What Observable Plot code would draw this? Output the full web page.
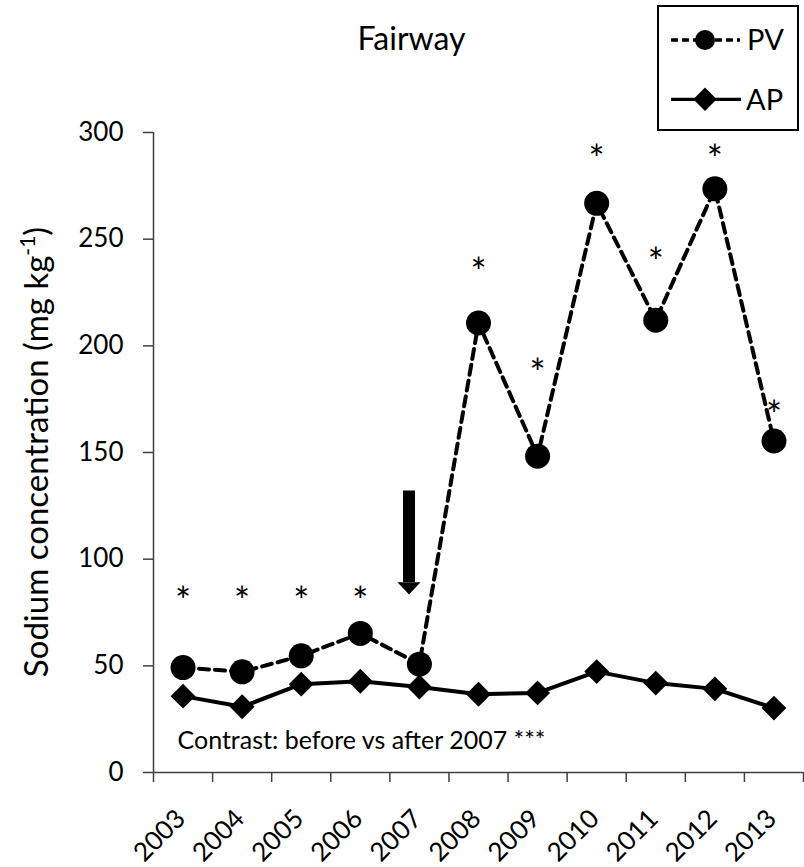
<!DOCTYPE html>
<html><head><meta charset="utf-8">
<script src="https://cdn.jsdelivr.net/npm/d3@7"></script>
<script src="https://cdn.jsdelivr.net/npm/@observablehq/plot@0.6"></script>
<style>
body{margin:0;background:#fff;}
#chart{width:804px;height:867px;}
</style></head><body><div id="chart"></div>
<script>
// ---- data ----
const years = [2003, 2004, 2005, 2006, 2007, 2008, 2009, 2010, 2011, 2012, 2013];
const pvValues = [49.2, 47.2, 54.7, 65.2, 50.8, 210.7, 148.3, 266.8, 212.0, 273.6, 155.4];
const apValues = [35.8, 30.8, 41.4, 42.8, 40.1, 36.7, 37.3, 47.3, 41.9, 39.2, 30.2];
const starValues = [83.7, 83.7, 83.7, 83.7, null, 238, 191, 291, 243, 291, 171];
const yTicks = [0, 50, 100, 150, 200, 250, 300];
const arrowYear = 2007;
const arrowTop = 132;
const arrowTip = 83.4;
const seriesNames = ["PV", "AP"];
const titleText = "Fairway";
const yLabelMain = "Sodium concentration (mg kg";
const yLabelSup = "-1";
const contrastText = "Contrast: before vs after 2007 ***";

// ---- tables ----
const pv = years.map((year, i) => ({year, value: pvValues[i]}));
const ap = years.map((year, i) => ({year, value: apValues[i]}));
const stars = years.map((year, i) => ({year, value: starValues[i]})).filter(d => d.value != null);
const bounds = years.map(y => y - 0.5).concat([years[years.length - 1] + 0.5]);
const arrow = [{year: arrowYear, top: arrowTop, tip: arrowTip}];

const font = "Lato, 'Open Sans', sans-serif";
const axisColor = "#404040";

const headSymbol = {
  draw(ctx, size) {
    const r = Math.sqrt(size / Math.PI);
    ctx.moveTo(-r, -r * 1.08);
    ctx.lineTo(r, -r * 1.08);
    ctx.lineTo(0, 0);
    ctx.closePath();
  }
};

const plot = Plot.plot({
  width: 804,
  height: 867,
  marginLeft: 153,
  marginRight: 1,
  marginTop: 132,
  marginBottom: 95,
  style: {fontFamily: font, fontSize: "26px", color: "#000", background: "#fff", overflow: "visible"},
  x: {type: "linear", domain: [bounds[0], bounds[bounds.length - 1]]},
  y: {domain: [0, 300]},
  marks: [
    Plot.axisY({ticks: yTicks, tickSize: 10, tickPadding: 20, tickFormat: d => String(d), label: null, stroke: axisColor, strokeWidth: 1.5, fontSize: 26, fill: "#000"}),
    Plot.axisX({ticks: bounds, tickSize: 10, tickFormat: () => "", label: null, stroke: axisColor, strokeWidth: 1.5}),
    Plot.axisX({ticks: years, tickSize: 0, tickRotate: -45, tickPadding: 42, dx: -2, tickFormat: d => String(d), label: null, fontSize: 26, fill: "#000"}),
    Plot.ruleX([bounds[0]], {stroke: axisColor, strokeWidth: 1.5}),
    Plot.ruleY([0], {stroke: axisColor, strokeWidth: 1.5}),
    Plot.line(pv, {x: "year", y: "value", stroke: "#000", strokeWidth: 4, strokeDasharray: "10,6"}),
    Plot.dot(pv, {x: "year", y: "value", r: 12.5, fill: "#000", stroke: null}),
    Plot.line(ap, {x: "year", y: "value", stroke: "#000", strokeWidth: 4}),
    Plot.dot(ap, {x: "year", y: "value", symbol: "diamond2", r: 11.2, fill: "#000", stroke: null}),
    Plot.text(stars, {x: "year", y: "value", text: () => "*", fontSize: 38, lineAnchor: "bottom", dy: 21.5, fill: "#000"}),
    Plot.ruleX(arrow, {x: "year", y1: "top", y2: "tip", insetBottom: 12, stroke: "#000", strokeWidth: 12, dx: -10.4}),
    Plot.dot(arrow, {x: "year", y: "tip", symbol: headSymbol, r: 11.5, fill: "#000", stroke: null, dx: -10.4}),
    Plot.text([contrastText], {frameAnchor: "bottom-left", text: d => d, dx: 24, dy: -24, textAnchor: "start", lineAnchor: "bottom", fontSize: 25, fill: "#000"})
  ]
});

const svg = d3.select(plot);
// title
svg.append("text")
  .attr("x", 411.5).attr("y", 49.5)
  .attr("text-anchor", "middle")
  .attr("font-family", font).attr("font-size", 32).attr("fill", "#000")
  .text(titleText);

// y-axis label with superscript
const yl = svg.append("text")
  .attr("transform", "translate(48,452) rotate(-90)")
  .attr("text-anchor", "middle")
  .attr("font-family", font).attr("font-size", 33).attr("fill", "#000");
yl.append("tspan").text(yLabelMain);
yl.append("tspan").attr("dy", -13).attr("font-size", 21).text(yLabelSup);
yl.append("tspan").attr("dy", 13).text(")");

// legend
const lg = svg.append("g").attr("font-family", font).attr("text-anchor", "start");
lg.append("rect").attr("x", 658).attr("y", 6).attr("width", 140).attr("height", 124)
  .attr("fill", "#fff").attr("stroke", "#000").attr("stroke-width", 2);
lg.append("line").attr("x1", 671).attr("x2", 740).attr("y1", 40).attr("y2", 40)
  .attr("stroke", "#000").attr("stroke-width", 3.3).attr("stroke-dasharray", "7,4");
lg.append("circle").attr("cx", 705).attr("cy", 40).attr("r", 10).attr("fill", "#000");
lg.append("text").attr("x", 747).attr("y", 50).attr("text-anchor", "start").attr("font-size", 29).attr("fill", "#000").text(seriesNames[0]);
lg.append("line").attr("x1", 671).attr("x2", 741).attr("y1", 99.3).attr("y2", 99.3)
  .attr("stroke", "#000").attr("stroke-width", 3.3);
lg.append("path").attr("d", d3.symbol(d3.symbolDiamond2, Math.pow(11.7 / 0.62625, 2))())
  .attr("transform", "translate(705,99.3)").attr("fill", "#000");
lg.append("text").attr("x", 746).attr("y", 110).attr("text-anchor", "start").attr("font-size", 29).attr("fill", "#000").text(seriesNames[1]);

document.getElementById("chart").appendChild(plot);
</script>
</body></html>
